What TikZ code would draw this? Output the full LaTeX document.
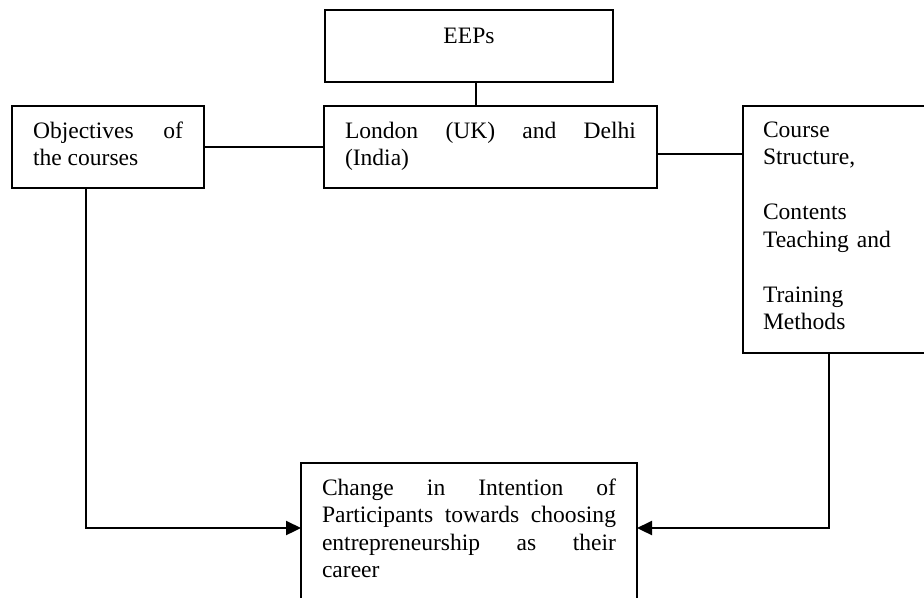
\documentclass[tikz,border=0pt]{standalone}
\usepackage{fontspec}
\setmainfont{Liberation Serif}
\usepackage{tikz}
\usetikzlibrary{arrows.meta}

\tikzset{
  box/.style={draw, line width=1.3pt, outer sep=0pt, inner ysep=0pt, inner xsep=0.42cm,
    anchor=north west, align=justify,
    font=\fontsize{13.4pt}{15.65pt}\selectfont,
    execute at begin node={\tolerance=10000\hyphenpenalty=10000}},
  line/.style={line width=1.3pt},
  flow/.style={line width=1.3pt, -{Triangle[length=0.3cm,width=0.28cm]}}
}

\begin{document}
\begin{tikzpicture}
\clip (0,0) rectangle (18.48,-11.94);

\node[box, align=center, text width=4.92cm, text height=0.66cm, text depth=0.78cm] (eeps) at (6.5,-0.2) {EEPs};
\node[box, text width=3cm, text height=0.64cm, text depth=1cm] (objectives) at (0.24,-2.12) {Objectives of\linebreak the courses};
\node[box, text width=5.82cm, text height=0.64cm, text depth=1cm] (london) at (6.48,-2.12) {London (UK) and Delhi\linebreak (India)};
\node[box, align=left, inner xsep=0.4cm, text width=3cm, text height=0.62cm, text depth=4.32cm] (course) at (14.86,-2.12)
  {Course\\Structure,\\[15.65pt]Contents\\Teaching and\\[15.65pt]Training\\Methods};
\node[box, text width=5.88cm, text height=0.64cm, text depth=2.4cm] (change) at (6.02,-9.26)
  {Change in Intention of\linebreak Participants towards choosing\linebreak entrepreneurship as their\linebreak career};

\draw[line] ([xshift=0.14cm]eeps.south) -- ([xshift=0.14cm]eeps.south |- london.north);
\draw[line] (objectives.east) -- (london.west);
\draw[line] ([yshift=-0.14cm]london.east) -- ([yshift=-0.14cm]london.east -| course.west);
\draw[flow] ([xshift=-0.44cm]objectives.south) |- ([yshift=0.22cm]change.west);
\draw[flow] ([xshift=-0.18cm]course.south) |- ([yshift=0.22cm]change.east);
\end{tikzpicture}
\end{document}
